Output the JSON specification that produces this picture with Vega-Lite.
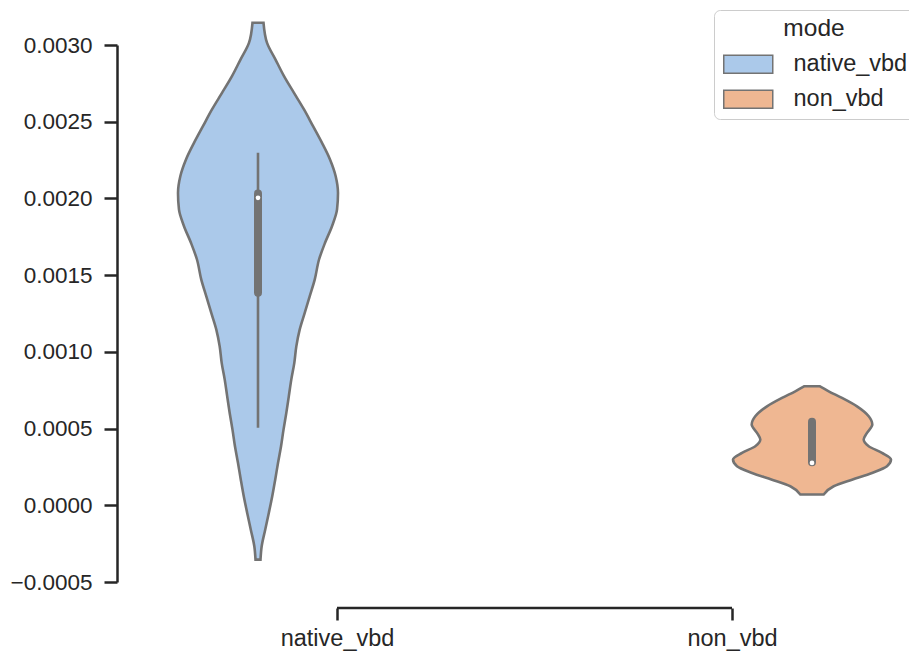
{
  "$schema": "https://vega.github.io/schema/vega-lite/v6.json",
  "autosize": {"type": "none"},
  "padding": {"left": 117, "top": 45, "right": 0, "bottom": 70},
  "width": 792,
  "height": 537,
  "config": {
    "view": {"stroke": null},
    "font": "Liberation Sans",
    "axis": {
      "grid": false,
      "domainColor": "#262626",
      "tickColor": "#262626",
      "labelColor": "#262626",
      "labelFont": "Liberation Sans",
      "labelFontSize": 22.5,
      "domainWidth": 2.5,
      "tickWidth": 2.5,
      "tickSize": 13,
      "labelPadding": 12
    }
  },
  "datasets": {
    "violin": [
      {"mode": "native_vbd", "value": 0.003145, "density": 0.069},
      {"mode": "native_vbd", "value": 0.003014, "density": 0.113},
      {"mode": "native_vbd", "value": 0.002905, "density": 0.219},
      {"mode": "native_vbd", "value": 0.002797, "density": 0.325},
      {"mode": "native_vbd", "value": 0.002688, "density": 0.45},
      {"mode": "native_vbd", "value": 0.00258, "density": 0.575},
      {"mode": "native_vbd", "value": 0.002471, "density": 0.688},
      {"mode": "native_vbd", "value": 0.002362, "density": 0.8},
      {"mode": "native_vbd", "value": 0.002254, "density": 0.9},
      {"mode": "native_vbd", "value": 0.002145, "density": 0.971},
      {"mode": "native_vbd", "value": 0.002036, "density": 1.0},
      {"mode": "native_vbd", "value": 0.001928, "density": 0.988},
      {"mode": "native_vbd", "value": 0.001819, "density": 0.925},
      {"mode": "native_vbd", "value": 0.001711, "density": 0.838},
      {"mode": "native_vbd", "value": 0.001602, "density": 0.763},
      {"mode": "native_vbd", "value": 0.001471, "density": 0.709},
      {"mode": "native_vbd", "value": 0.001362, "density": 0.646},
      {"mode": "native_vbd", "value": 0.001254, "density": 0.584},
      {"mode": "native_vbd", "value": 0.001145, "density": 0.521},
      {"mode": "native_vbd", "value": 0.001036, "density": 0.479},
      {"mode": "native_vbd", "value": 0.000928, "density": 0.454},
      {"mode": "native_vbd", "value": 0.000819, "density": 0.416},
      {"mode": "native_vbd", "value": 0.00071, "density": 0.385},
      {"mode": "native_vbd", "value": 0.000602, "density": 0.354},
      {"mode": "native_vbd", "value": 0.000493, "density": 0.319},
      {"mode": "native_vbd", "value": 0.000385, "density": 0.288},
      {"mode": "native_vbd", "value": 0.000276, "density": 0.25},
      {"mode": "native_vbd", "value": 0.000167, "density": 0.215},
      {"mode": "native_vbd", "value": 0.000059, "density": 0.178},
      {"mode": "native_vbd", "value": -0.00005, "density": 0.135},
      {"mode": "native_vbd", "value": -0.000159, "density": 0.09},
      {"mode": "native_vbd", "value": -0.000267, "density": 0.046},
      {"mode": "native_vbd", "value": -0.000354, "density": 0.031},
      {"mode": "non_vbd", "value": 0.000776, "density": 0.094},
      {"mode": "non_vbd", "value": 0.000743, "density": 0.209},
      {"mode": "non_vbd", "value": 0.0007, "density": 0.375},
      {"mode": "non_vbd", "value": 0.000645, "density": 0.5625},
      {"mode": "non_vbd", "value": 0.00058, "density": 0.709},
      {"mode": "non_vbd", "value": 0.000526, "density": 0.754},
      {"mode": "non_vbd", "value": 0.000472, "density": 0.6875},
      {"mode": "non_vbd", "value": 0.000428, "density": 0.646},
      {"mode": "non_vbd", "value": 0.000385, "density": 0.709},
      {"mode": "non_vbd", "value": 0.000342, "density": 0.875},
      {"mode": "non_vbd", "value": 0.000298, "density": 0.9875},
      {"mode": "non_vbd", "value": 0.000254, "density": 0.9375},
      {"mode": "non_vbd", "value": 0.000211, "density": 0.75},
      {"mode": "non_vbd", "value": 0.000167, "density": 0.5},
      {"mode": "non_vbd", "value": 0.000124, "density": 0.271},
      {"mode": "non_vbd", "value": 0.00007, "density": 0.146}
    ],
    "box": [
      {"mode": "native_vbd", "wlo": 0.000505, "whi": 0.002297, "q1": 0.001386, "q3": 0.002032, "median": 0.002004},
      {"mode": "non_vbd", "wlo": 0.00028, "whi": 0.000544, "q1": 0.00028, "q3": 0.000544, "median": 0.000276}
    ],
    "ticks": [
      {"from": 0, "to": 1}
    ]
  },
  "layer": [
    {
      "layer": [
        {
          "data": {"name": "violin"},
          "transform": [{"filter": "datum.mode == 'native_vbd'"}],
          "mark": {"type": "area", "orient": "horizontal", "interpolate": "monotone", "stroke": "#737373", "strokeWidth": 2.6, "opacity": 1},
          "encoding": {
            "y": {"field": "value", "type": "quantitative", "scale": {"domain": [-0.0005, 0.003], "nice": false, "zero": false}, "axis": {"values": [-0.0005, 0, 0.0005, 0.001, 0.0015, 0.002, 0.0025, 0.003], "format": ".4f", "title": null}},
            "x": {"field": "density", "type": "quantitative", "stack": "center", "scale": {"domain": [-0.38125, 4.56875], "nice": false, "zero": false}, "axis": null},
            "color": {"field": "mode", "type": "nominal", "scale": {"domain": ["native_vbd", "non_vbd"], "range": ["#abc9ea", "#efb792"]},
              "legend": {"orient": "none", "legendX": 597, "legendY": -35, "title": "mode", "titleAnchor": "middle", "titleFont": "Liberation Sans", "titleFontSize": 24.5, "titleFontWeight": "normal", "titleColor": "#262626", "labelFont": "Liberation Sans", "labelFontSize": 23.5, "labelColor": "#262626", "symbolType": "M-0.9,-0.9H4V0.9H-0.9Z", "symbolSize": 400, "symbolStrokeColor": "#737373", "symbolStrokeWidth": 1.5, "symbolOpacity": 1, "strokeColor": "#cccccc", "cornerRadius": 6, "padding": 7, "fillColor": "white", "labelOffset": 49, "rowPadding": 10, "titlePadding": 11}}
          }
        },
        {
          "data": {"name": "box"},
          "transform": [{"filter": "datum.mode == 'native_vbd'"}],
          "mark": {"type": "rule", "color": "#737373", "strokeWidth": 2.6},
          "encoding": {
            "x": {"datum": 0.5, "type": "quantitative", "scale": {"domain": [-0.38125, 4.56875], "nice": false, "zero": false}, "axis": null},
            "y": {"field": "wlo", "type": "quantitative", "scale": {"domain": [-0.0005, 0.003], "nice": false, "zero": false}, "axis": {"values": [-0.0005, 0, 0.0005, 0.001, 0.0015, 0.002, 0.0025, 0.003], "format": ".4f", "title": null}},
            "y2": {"field": "whi"}
          }
        },
        {
          "data": {"name": "box"},
          "transform": [{"filter": "datum.mode == 'native_vbd'"}],
          "mark": {"type": "rule", "color": "#737373", "strokeWidth": 8, "strokeCap": "round"},
          "encoding": {
            "x": {"datum": 0.5, "type": "quantitative", "scale": {"domain": [-0.38125, 4.56875], "nice": false, "zero": false}, "axis": null},
            "y": {"field": "q1", "type": "quantitative", "scale": {"domain": [-0.0005, 0.003], "nice": false, "zero": false}, "axis": {"values": [-0.0005, 0, 0.0005, 0.001, 0.0015, 0.002, 0.0025, 0.003], "format": ".4f", "title": null}},
            "y2": {"field": "q3"}
          }
        },
        {
          "data": {"name": "box"},
          "transform": [{"filter": "datum.mode == 'native_vbd'"}],
          "mark": {"type": "point", "filled": true, "color": "white", "size": 22, "opacity": 1},
          "encoding": {
            "x": {"datum": 0.5, "type": "quantitative", "scale": {"domain": [-0.38125, 4.56875], "nice": false, "zero": false}, "axis": null},
            "y": {"field": "median", "type": "quantitative", "scale": {"domain": [-0.0005, 0.003], "nice": false, "zero": false}, "axis": {"values": [-0.0005, 0, 0.0005, 0.001, 0.0015, 0.002, 0.0025, 0.003], "format": ".4f", "title": null}}
          }
        }
      ]
    },
    {
      "layer": [
        {
          "data": {"name": "violin"},
          "transform": [{"filter": "datum.mode == 'non_vbd'"}],
          "mark": {"type": "area", "orient": "horizontal", "interpolate": "monotone", "stroke": "#737373", "strokeWidth": 2.6, "opacity": 1},
          "encoding": {
            "y": {"field": "value", "type": "quantitative", "scale": {"domain": [-0.0005, 0.003], "nice": false, "zero": false}, "axis": {"values": [-0.0005, 0, 0.0005, 0.001, 0.0015, 0.002, 0.0025, 0.003], "format": ".4f", "title": null}},
            "x": {"field": "density", "type": "quantitative", "stack": "center", "scale": {"domain": [-3.85, 1.1], "nice": false, "zero": false}, "axis": null},
            "color": {"field": "mode", "type": "nominal", "scale": {"domain": ["native_vbd", "non_vbd"], "range": ["#abc9ea", "#efb792"]},
              "legend": {"orient": "none", "legendX": 597, "legendY": -35, "title": "mode", "titleAnchor": "middle", "titleFont": "Liberation Sans", "titleFontSize": 24.5, "titleFontWeight": "normal", "titleColor": "#262626", "labelFont": "Liberation Sans", "labelFontSize": 23.5, "labelColor": "#262626", "symbolType": "M-0.9,-0.9H4V0.9H-0.9Z", "symbolSize": 400, "symbolStrokeColor": "#737373", "symbolStrokeWidth": 1.5, "symbolOpacity": 1, "strokeColor": "#cccccc", "cornerRadius": 6, "padding": 7, "fillColor": "white", "labelOffset": 49, "rowPadding": 10, "titlePadding": 11}}
          }
        },
        {
          "data": {"name": "box"},
          "transform": [{"filter": "datum.mode == 'non_vbd'"}],
          "mark": {"type": "rule", "color": "#737373", "strokeWidth": 8, "strokeCap": "round"},
          "encoding": {
            "x": {"datum": 0.49375, "type": "quantitative", "scale": {"domain": [-3.85, 1.1], "nice": false, "zero": false}, "axis": null},
            "y": {"field": "q1", "type": "quantitative", "scale": {"domain": [-0.0005, 0.003], "nice": false, "zero": false}, "axis": {"values": [-0.0005, 0, 0.0005, 0.001, 0.0015, 0.002, 0.0025, 0.003], "format": ".4f", "title": null}},
            "y2": {"field": "q3"}
          }
        },
        {
          "data": {"name": "box"},
          "transform": [{"filter": "datum.mode == 'non_vbd'"}],
          "mark": {"type": "point", "filled": true, "color": "white", "size": 22, "opacity": 1},
          "encoding": {
            "x": {"datum": 0.49375, "type": "quantitative", "scale": {"domain": [-3.85, 1.1], "nice": false, "zero": false}, "axis": null},
            "y": {"field": "median", "type": "quantitative", "scale": {"domain": [-0.0005, 0.003], "nice": false, "zero": false}, "axis": {"values": [-0.0005, 0, 0.0005, 0.001, 0.0015, 0.002, 0.0025, 0.003], "format": ".4f", "title": null}}
          }
        }
      ]
    },
    {
      "data": {"name": "ticks"},
      "mark": {"type": "rule", "color": "#262626", "strokeWidth": 2.5},
      "encoding": {
        "x": {"field": "from", "type": "quantitative", "scale": {"domain": [-0.557, 1.4481], "nice": false, "zero": false},
          "axis": {"values": [0, 1], "offset": 26, "domain": false, "tickSize": 12, "labelPadding": 6, "labelFontSize": 23.5, "title": null, "labelExpr": "datum.value == 0 ? 'native_vbd' : 'non_vbd'"}},
        "x2": {"field": "to"},
        "y": {"datum": -0.00067, "type": "quantitative", "scale": {"domain": [-0.0005, 0.003], "nice": false, "zero": false}, "axis": {"values": [-0.0005, 0, 0.0005, 0.001, 0.0015, 0.002, 0.0025, 0.003], "format": ".4f", "title": null}}
      }
    }
  ],
  "resolve": {"scale": {"x": "independent"}}
}
